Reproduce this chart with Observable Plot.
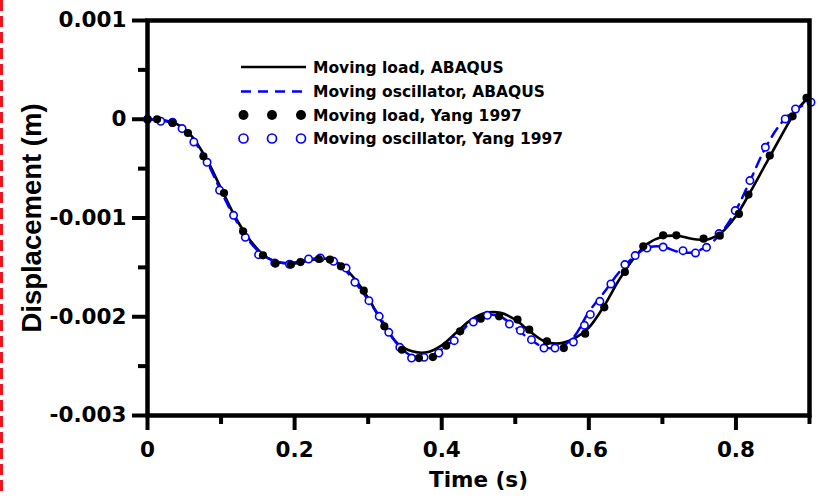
<!DOCTYPE html>
<html><head><meta charset="utf-8">
<script src="https://cdn.jsdelivr.net/npm/d3@7"></script>
<script src="https://cdn.jsdelivr.net/npm/@observablehq/plot@0.6"></script>
<style>
body{margin:0;background:#fff;}
#wrap{position:relative;width:821px;height:496px;}
#wrap svg.overlay{position:absolute;left:0;top:0;pointer-events:none;}
</style></head><body><div id="wrap"></div>
<script>
// ABAQUS curves (time in s, displacement in m)
const abaqusTime = [0,0.02,0.04,0.06,0.08,0.10,0.12,0.14,0.16,0.18,0.20,0.22,0.24,0.26,0.28,0.30,0.32,0.34,0.36,0.38,0.40,0.42,0.44,0.46,0.48,0.50,0.52,0.54,0.56,0.58,0.60,0.62,0.64,0.66,0.68,0.70,0.72,0.74,0.76,0.78,0.80,0.82,0.84,0.86,0.88,0.90];
const loadAbaqus = [0,-0.00001,-0.00005,-0.00017,-0.00040,-0.00070,-0.00100,-0.00123,-0.00139,-0.00145,-0.00146,-0.00143,-0.00141,-0.00146,-0.00160,-0.00181,-0.00207,-0.00227,-0.00235,-0.00236,-0.00229,-0.00216,-0.00203,-0.00196,-0.00196,-0.00203,-0.00215,-0.00225,-0.00227,-0.00222,-0.00211,-0.00190,-0.00164,-0.00142,-0.00126,-0.00119,-0.00118,-0.00121,-0.00122,-0.00115,-0.00098,-0.00073,-0.00046,-0.00019,0.000064,0.000233];
const oscAbaqus = [0,-0.00001,-0.00006,-0.00019,-0.00042,-0.00073,-0.00102,-0.00125,-0.00139,-0.00145,-0.00145,-0.00142,-0.00140,-0.00146,-0.00163,-0.00183,-0.00205,-0.00228,-0.00240,-0.00241,-0.00233,-0.00221,-0.00205,-0.00198,-0.00200,-0.00211,-0.00223,-0.00231,-0.00231,-0.00220,-0.00195,-0.00176,-0.00156,-0.00140,-0.00130,-0.00129,-0.00134,-0.00135,-0.00129,-0.00115,-0.00092,-0.00061,-0.00029,-0.000054,0.000098,0.000165];
// Yang 1997 points
const yangLoadTime = [0,0.013,0.034,0.055,0.076,0.104,0.130,0.157,0.174,0.195,0.208,0.233,0.248,0.263,0.294,0.322,0.346,0.369,0.388,0.406,0.425,0.453,0.478,0.503,0.519,0.543,0.566,0.595,0.621,0.649,0.674,0.701,0.719,0.756,0.778,0.804,0.817,0.846,0.877,0.896];
const yangLoad = [0,0,-0.000037,-0.000139,-0.000375,-0.000747,-0.001135,-0.001378,-0.001462,-0.001472,-0.001446,-0.001415,-0.001421,-0.001489,-0.001736,-0.002097,-0.002334,-0.002418,-0.002408,-0.002293,-0.002148,-0.002019,-0.001996,-0.002029,-0.002131,-0.002249,-0.002317,-0.002171,-0.001905,-0.001547,-0.001287,-0.001175,-0.001175,-0.001209,-0.001179,-0.000959,-0.000763,-0.000368,0.000030,0.000216];
const yangOscTime = [0,0.018,0.034,0.047,0.063,0.081,0.098,0.117,0.133,0.151,0.173,0.193,0.219,0.235,0.253,0.270,0.282,0.301,0.315,0.328,0.343,0.359,0.376,0.396,0.417,0.443,0.462,0.492,0.507,0.522,0.539,0.554,0.579,0.594,0.602,0.615,0.630,0.649,0.663,0.679,0.701,0.728,0.745,0.760,0.777,0.799,0.819,0.840,0.867,0.881,0.902];
const yangOsc = [0,-0.00002,-0.00003,-0.000094,-0.00023,-0.000436,-0.000719,-0.000973,-0.001196,-0.001371,-0.001455,-0.001468,-0.001415,-0.001405,-0.001439,-0.001507,-0.001651,-0.001837,-0.001996,-0.002158,-0.00231,-0.002418,-0.002411,-0.002367,-0.002242,-0.002053,-0.001986,-0.002074,-0.002138,-0.002232,-0.002317,-0.002317,-0.002256,-0.002087,-0.001976,-0.001844,-0.001668,-0.001472,-0.001381,-0.001304,-0.001294,-0.001331,-0.001354,-0.001297,-0.001158,-0.000925,-0.000621,-0.000284,0.000003,0.000104,0.000172];

const seriesNames = ["Moving load, ABAQUS","Moving oscillator, ABAQUS","Moving load, Yang 1997","Moving oscillator, Yang 1997"];
const xTitle = "Time (s)";
const yTitle = "Displacement (m)";
const xTicks = [0,0.2,0.4,0.6,0.8];
const xTickLabels = ["0","0.2","0.4","0.6","0.8"];
const xMinor = [0.1,0.3,0.5,0.7,0.9];
const yTicks = [-0.003,-0.002,-0.001,0,0.001];
const yTickLabels = ["-0.003","-0.002","-0.001","0","0.001"];
const yMinor = [-0.0025,-0.0015,-0.0005,0.0005];

const lineLoad = abaqusTime.map((t,i)=>({t, v: loadAbaqus[i]}));
const lineOsc = abaqusTime.map((t,i)=>({t, v: oscAbaqus[i]}));
const ptsLoad = yangLoadTime.map((t,i)=>({t, v: yangLoad[i]}));
const ptsOsc = yangOscTime.map((t,i)=>({t, v: yangOsc[i]}));
const xLab = new Map(xTicks.map((d,i)=>[d,xTickLabels[i]]));
const yLab = new Map(yTicks.map((d,i)=>[d,yTickLabels[i]]));

const FONT = "DejaVu Sans, Liberation Sans, Arial, sans-serif";
const chart = Plot.plot({
  width: 821, height: 496,
  marginLeft: 147, marginRight: 12, marginTop: 20, marginBottom: 81,
  style: {fontFamily: FONT, fontWeight: "bold", fontSize: "21.5px", color: "#000", background: "#fff", overflow: "visible"},
  x: {domain: [0, 0.9]},
  y: {domain: [-0.003, 0.001]},
  marks: [
    Plot.axisX(xMinor, {tickSize: 9, strokeWidth: 4, tickFormat: () => "", label: null}),
    Plot.axisY(yMinor, {tickSize: 9, strokeWidth: 4, tickFormat: () => "", label: null}),
    Plot.axisX(xTicks, {tickSize: 15, tickPadding: 11, strokeWidth: 4, fontSize: 21.5, tickFormat: d => xLab.get(d),
      label: xTitle, labelAnchor: "center", labelArrow: "none", labelOffset: 71}),
    Plot.axisY(yTicks, {tickSize: 15, tickPadding: 6, strokeWidth: 4, fontSize: 21.5, tickFormat: d => yLab.get(d), label: null}),
    Plot.text([yTitle], {frameAnchor: "left", rotate: -90, dx: -115, text: d => d, fontSize: 27.5,
      fontFamily: "Liberation Sans, Arial, sans-serif", fontWeight: "bold", textAnchor: "middle", lineAnchor: "middle", fill: "#000"}),
    Plot.line(lineLoad, {x: "t", y: "v", stroke: "#000", strokeWidth: 2.6, curve: "catmull-rom"}),
    Plot.line(lineOsc, {x: "t", y: "v", stroke: "#0000ff", strokeWidth: 2.5, strokeDasharray: "10,7", curve: "catmull-rom"}),
    Plot.dot(ptsOsc, {x: "t", y: "v", r: 3.7, stroke: "#0000ff", strokeWidth: 1.6, fill: "white"}),
    Plot.dot(ptsLoad, {x: "t", y: "v", r: 4.1, fill: "#000", stroke: "none"}),
    Plot.frame({stroke: "#000", strokeWidth: 4.5})
  ]
});
const wrap = document.getElementById("wrap");
wrap.appendChild(chart);

// overlay: legend + left red dashed marker
const ov = d3.select(wrap).append("svg").attr("class","overlay").attr("width",821).attr("height",496);
ov.append("line").attr("x1",1.5).attr("x2",1.5).attr("y1",0).attr("y2",496)
  .attr("stroke","#f0141e").attr("stroke-width",3).attr("stroke-dasharray","11,5");
const rowY = [67, 91.5, 115, 138.5];
const lg = ov.append("g").attr("font-family", FONT).attr("font-weight","bold").attr("font-size","15.5px");
lg.append("line").attr("x1",241).attr("x2",306).attr("y1",rowY[0]).attr("y2",rowY[0]).attr("stroke","#000").attr("stroke-width",2.5);
lg.append("line").attr("x1",241).attr("x2",306).attr("y1",rowY[1]).attr("y2",rowY[1]).attr("stroke","#0000ff").attr("stroke-width",2.5).attr("stroke-dasharray","10,7");
[243.5,272,301].forEach(x=>{
  lg.append("circle").attr("cx",x).attr("cy",rowY[2]).attr("r",5).attr("fill","#000");
  lg.append("circle").attr("cx",x).attr("cy",rowY[3]).attr("r",4.5).attr("fill","white").attr("stroke","#0000ff").attr("stroke-width",1.7);
});
seriesNames.forEach((s,i)=>{
  lg.append("text").attr("x",313).attr("y",rowY[i]).attr("dy","0.36em").text(s);
});
</script>
</body></html>
